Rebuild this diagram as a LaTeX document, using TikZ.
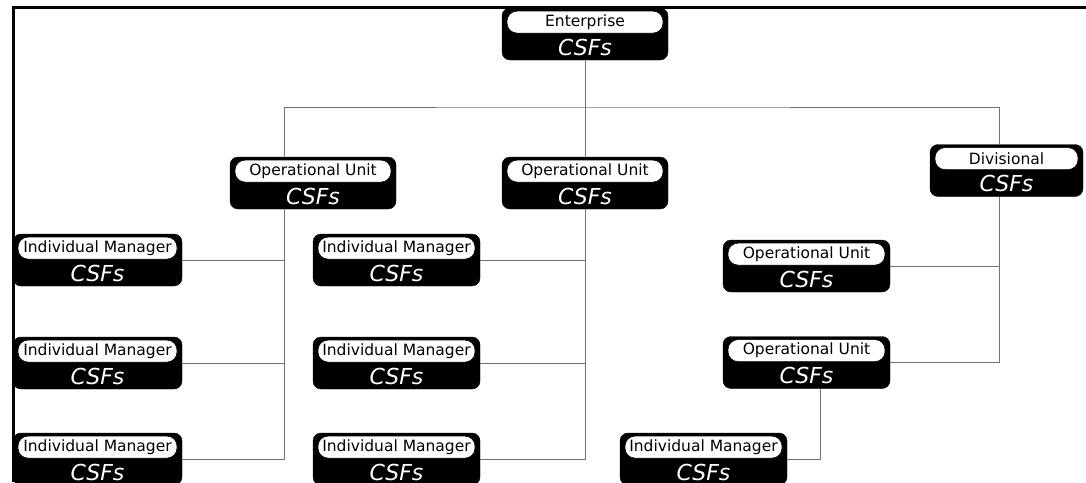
\documentclass[tikz,border=0pt]{standalone}
\usepackage{fontspec}
\setmainfont{DejaVu Sans}
\usetikzlibrary{calc}
\tikzset{
  x=1pt, y=-1pt,
  csfbox/.style={fill=black, draw=black, rounded corners=8pt, minimum height=52pt, inner sep=0pt},
  pill/.style={fill=white, draw=black, line width=0.6pt, rounded corners=10pt, minimum height=22pt,
    inner sep=0pt, font=\fontsize{15.5}{16}\selectfont, anchor=north},
  csf/.style={text=white, font=\fontsize{22}{24}\selectfont\itshape, inner sep=0pt, anchor=base},
  link/.style={draw=black!55, line width=1pt},
  frame/.style={draw=black, line width=3pt},
}
\newcommand\csfnode[5]{% name, x, y, width, label
  \node[csfbox, minimum width={#4*1pt}] (#1) at (#2,#3) {};
  \node[pill, minimum width={(#4-10)*1pt}] (#1p) at ($(#1.north)+(0,3)$) {#5};
  \node[csf] (#1c) at ($(#1.south)+(0,-5)$) {CSFs};
}
\begin{document}
\begin{tikzpicture}
\useasboundingbox (0,0) rectangle (1086,482);
\draw[frame] (12,7.5) -- (1086,7.5);
\draw[frame, line width=2.5pt] (13.5,6) -- (13.5,482);

\coordinate (x1) at (284,0);
\coordinate (x3) at (999,0);
\coordinate (x4) at (820,0);
\coordinate (j0) at (585,107);

\csfnode{ent}{585}{34}{166}{Enterprise}
\csfnode{ou1}{313}{183}{166}{Operational Unit}
\csfnode{ou2}{585}{183}{166}{Operational Unit}
\csfnode{div}{1006.5}{170.5}{153}{Divisional}
\csfnode{ouRa}{806.5}{266}{167}{Operational Unit}
\csfnode{ouRb}{806.5}{362.5}{167}{Operational Unit}
\csfnode{ima}{97.5}{260}{169}{Individual Manager}
\csfnode{imb}{97.5}{363}{169}{Individual Manager}
\csfnode{imc}{97.5}{459}{169}{Individual Manager}
\csfnode{imd}{396.5}{260}{167}{Individual Manager}
\csfnode{ime}{396.5}{363}{167}{Individual Manager}
\csfnode{imf}{396.5}{459}{167}{Individual Manager}
\csfnode{img}{703.5}{459}{167}{Individual Manager}

\draw[link] (ent.south) -- (j0);
\draw[link] (ou1.north -| x1) |- (j0) -| (div.north -| x3);
\draw[link] (j0) -- (ou2.north);

\draw[link] (ou1.south -| x1) |- (imc.east);
\draw[link] (ima.east) -- (ima.east -| x1);
\draw[link] (imb.east) -- (imb.east -| x1);

\draw[link] (ou2.south) |- (imf.east);
\draw[link] (imd.east) -- (imd.east -| ou2.south);
\draw[link] (ime.east) -- (ime.east -| ou2.south);

\draw[link] (div.south -| x3) |- (ouRb.east);
\draw[link] (ouRa.east) -- (ouRa.east -| x3);

\draw[link] (ouRb.south -| x4) |- (img.east);
\end{tikzpicture}
\end{document}
